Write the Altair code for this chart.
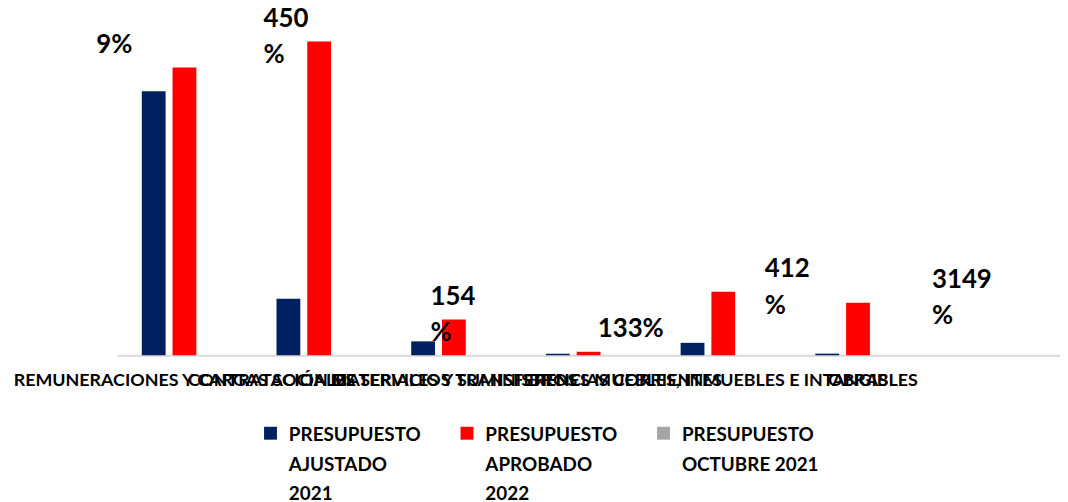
import altair as alt
import pandas as pd

categorias = [
    "REMUNERACIONES Y CARGAS SOCIALES",
    "CONTRATACIÓN DE SERVICIOS",
    "MATERIALES Y SUMINISTROS",
    "TRANSFERENCIAS CORRIENTES",
    "BIENES MUEBLES, INMUEBLES E INTANGIBLES",
    "OBRAS",
    " ",
]
series = ["PRESUPUESTO AJUSTADO 2021", "PRESUPUESTO APROBADO 2022", "PRESUPUESTO OCTUBRE 2021"]
ajustado_2021 = [266, 57, 14, 1.5, 12.5, 1.6, 0]
aprobado_2022 = [290, 316, 36, 3.5, 64, 53, 0]
octubre_2021 = [0, 0, 0, 0, 0, 0, 0]
variacion = ["9%", "450\n%", "154\n%", "133%", "412\n%", "3149\n%"]
colores = ["#002060", "#ff0000", "#a5a5a5"]

rows = []
for s, vals in zip(series, [ajustado_2021, aprobado_2022, octubre_2021]):
    for c, v in zip(categorias, vals):
        rows.append({"categoria": c, "serie": s, "valor": v})
df = pd.DataFrame(rows)

lab = pd.DataFrame({
    "categoria": categorias[:len(variacion)],
    "texto": variacion,
    "aprobado": aprobado_2022[:len(variacion)],
})

FONT = "Lato"
yscale = alt.Scale(domain=[0, 340], nice=False, zero=True)

legend_expr = (
    "datum.label == 'PRESUPUESTO AJUSTADO 2021' ? ['PRESUPUESTO','AJUSTADO','2021'] : "
    "datum.label == 'PRESUPUESTO APROBADO 2022' ? ['PRESUPUESTO','APROBADO','2022'] : "
    "['PRESUPUESTO','OCTUBRE 2021','']"
)

bars = alt.Chart(df).mark_bar().encode(
    x=alt.X(
        "categoria:N", sort=categorias,
        scale=alt.Scale(paddingInner=0.315, paddingOuter=0.157),
        axis=alt.Axis(
            title=None, labelAngle=0, ticks=False, domainColor="#d9d9d9", domainWidth=2,
            labelFont=FONT, labelFontSize=18, labelFontWeight="bold", labelColor="#000000",
            labelPadding=17, labelOverlap=False, labelBound=False, labelLimit=1000,
        ),
    ),
    xOffset=alt.XOffset("serie:N", sort=series,
                        scale=alt.Scale(paddingInner=0.226, paddingOuter=0.113)),
    y=alt.Y("valor:Q", scale=yscale, axis=None),
    color=alt.Color(
        "serie:N", sort=series,
        scale=alt.Scale(domain=series, range=colores),
        legend=alt.Legend(
            title=None, orient="none", legendX=145, legendY=402, columns=3,
            columnPadding=37, symbolType="M-1,0.05L1,0.05L1,2.05L-1,2.05Z",
            symbolSize=169, symbolStrokeWidth=0,
            labelFont=FONT, labelFontSize=19, labelFontWeight="bold", labelColor="#000000",
            labelOffset=9, labelLimit=400, labelExpr=legend_expr, labelBaseline="top",
            padding=0,
        ),
    ),
)

text = alt.Chart(lab).mark_text(
    align="left", baseline="top", dy=-36, font=FONT, fontSize=26, fontWeight="bold",
    lineBreak="\n", lineHeight=37, color="#000000",
).encode(
    x=alt.X("categoria:N", sort=categorias[:len(variacion)],
            scale=alt.Scale(type="point", range=[-21, 821], padding=0), axis=None),
    y=alt.Y("aprobado:Q", scale=yscale, axis=None),
    text="texto:N",
)

chart = alt.layer(bars, text).resolve_scale(x="independent").properties(
    width=950, height=340,
    padding={"left": 110, "top": 8, "right": 0, "bottom": 145},
    autosize="none",
).configure(style={"guide-label": {"lineHeight": 29.5}}).configure_view(stroke=None)

chart.save("out.html", embed_options={"renderer": "svg", "actions": False})
